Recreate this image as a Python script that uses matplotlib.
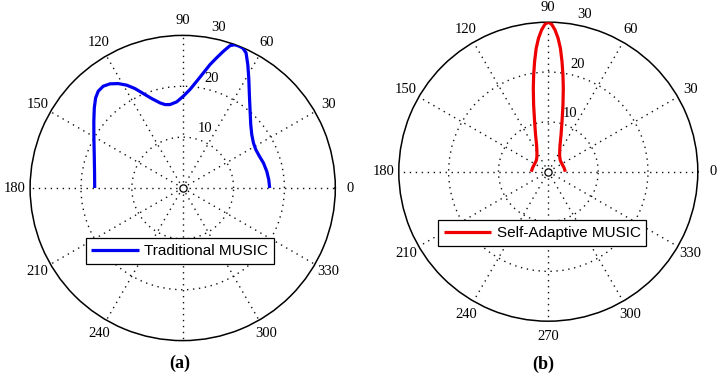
import numpy as np
import matplotlib
matplotlib.use("Agg")
import matplotlib.pyplot as plt

# ---------------- data ----------------
theta_a = [0, 5.5, 11.2, 17.2, 22.5, 27.7, 32.5, 37.7, 43.0, 48.7, 54.5, 59.05,
           62.2, 64.9, 66.8, 68.6, 70.1, 71.6, 73.4, 75.4, 77.5, 79.8, 82.5,
           85.8, 89.6, 94.0, 98.7, 102.0, 104.95, 109.15, 112.65, 115.65, 118.6,
           121.7, 124.95, 127.98, 131.1, 134.0, 137.8, 143.1, 150.6, 159.3,
           169.3, 180]
r_a = [17.1, 17.0, 16.85, 16.62, 16.32, 16.23, 16.49, 17.16, 18.29, 20.08, 22.57,
       25.25, 27.44, 29.35, 29.95, 30.0, 29.95, 29.5, 28.07, 26.45, 24.87, 23.0,
       21.18, 19.41, 18.05, 16.97, 16.59, 16.77, 17.32, 18.62, 20.12, 21.69,
       23.03, 24.13, 24.98, 25.39, 25.26, 24.64, 23.46, 21.85, 20.04, 18.59,
       17.64, 17.3]

theta_b = [0, 14.4, 29.3, 42.5, 52.9, 60.4, 66.3, 70.9, 74.7, 77.6, 79.8, 81.4,
           82.9, 84.4, 85.8, 87.3, 88.7, 90, 91.3, 92.7, 94.2, 95.6, 97.1, 98.6,
           100.2, 102.4, 105.3, 109.1, 113.7, 119.6, 127.1, 137.5, 150.7, 165.6, 180]
r_b = [3.42, 3.25, 3.16, 3.28, 3.78, 4.62, 5.85, 7.8, 10.42, 13.71, 17.01, 19.64,
       22.27, 24.89, 26.85, 28.49, 29.6, 30.0, 29.6, 28.49, 26.85, 24.89, 22.27,
       19.64, 17.01, 13.71, 10.42, 7.8, 5.85, 4.62, 3.78, 3.28, 3.16, 3.25, 3.42]

angle_ticks = [0, 30, 60, 90, 120, 150, 180, 210, 240, 270, 300, 330]
ring_ticks = [10, 20, 30]
labels = ["Traditional MUSIC", "Self-Adaptive MUSIC"]
panel_tags = ["(a)", "(b)"]

# ---------------- figure ----------------
fig = plt.figure(figsize=(7.2, 3.8), dpi=100)
serif = "Liberation Serif"
sans = "Liberation Sans"
dots = (0, (1.0, 3.3))


def make_polar(rect, theta, r, color, label, skip_angles, leg_center):
    ax = fig.add_axes(rect, projection="polar")
    ax.set_ylim(0, ring_ticks[-1])
    ax.set_xticks(np.deg2rad(angle_ticks))
    ax.set_xticklabels([])
    ax.set_yticks(ring_ticks[:-1])
    ax.set_yticklabels([])
    ax.grid(True, color="#111111", linestyle=dots, linewidth=1.0)
    ax.spines["polar"].set_color("black")
    ax.spines["polar"].set_linewidth(1.1)
    ax.tick_params(length=0)
    ax.patch.set_facecolor("white")

    ln, = ax.plot(np.deg2rad(theta), r, color=color, linewidth=2.3,
                  solid_capstyle="butt", label=label, zorder=5)
    ax.plot([0], [0], "o", mfc="white", mec="black", ms=5.2, mew=0.9, zorder=4)

    rmax = ring_ticks[-1]
    for a in angle_ticks:
        if a in skip_angles:
            continue
        ax.text(np.deg2rad(a), rmax * 1.1, str(a), ha="center", va="center",
                family=serif, fontsize=10.5, clip_on=False)
    for rt in ring_ticks:
        ax.annotate(str(rt), xy=(np.deg2rad(82), rt + rmax / 60.0),
                    xytext=(5.3, 0), textcoords="offset points",
                    ha="left", va="bottom", family=serif, fontsize=10.5,
                    annotation_clip=False)

    leg = ax.legend(handles=[ln], loc="center", bbox_to_anchor=leg_center,
                    bbox_transform=fig.transFigure, prop={"family": sans, "size": 11},
                    handlelength=3.1, handletextpad=0.35, borderpad=0.38,
                    borderaxespad=0, fancybox=False, framealpha=1,
                    edgecolor="black")
    leg.get_frame().set_linewidth(0.9)
    return ax


make_polar([0.04181, 0.10368, 0.42389, 0.80316], theta_a, r_a, "#0000f0",
           labels[0], [270], (0.2496, 0.339))
make_polar([0.55389, 0.15474, 0.41528, 0.78684], theta_b, r_b, "#ee0000",
           labels[1], [], (0.7532, 0.3868))

fig.text(0.250, 0.045, panel_tags[0], ha="center", va="center", family=serif,
         fontsize=13, fontweight="bold")
fig.text(0.754, 0.042, panel_tags[1], ha="center", va="center", family=serif,
         fontsize=13, fontweight="bold")

fig.savefig("out.png", dpi=100, facecolor="white")
